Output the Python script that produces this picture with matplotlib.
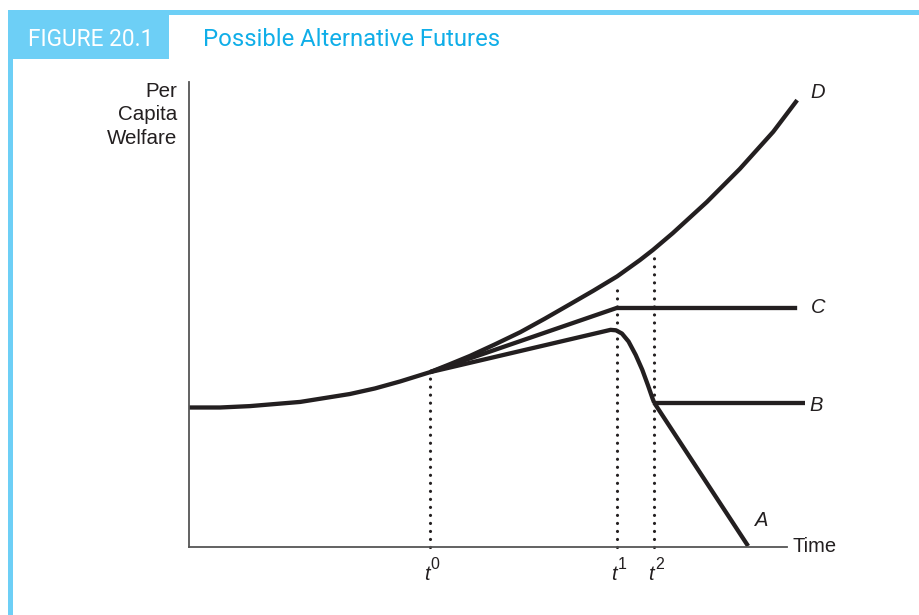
import matplotlib
matplotlib.use("Agg")
import matplotlib.pyplot as plt
from matplotlib.patches import Rectangle

# ---- data (time units, welfare units) ----
d_time = [0, 5.2, 10.2, 18.6, 26.9, 31.1, 35.3, 40.3, 43.6, 47.0, 51.2, 55.4, 59.5, 63.7,
          67.6, 71.6, 75.4, 77.6, 80.9, 86.6, 92.1, 97.7, 101.7]
d_welfare = [30.0, 30.0, 30.3, 31.2, 32.9, 34.1, 35.6, 37.6, 39.3, 41.1, 43.6, 46.2, 49.1, 52.2,
             55.1, 58.2, 61.7, 63.9, 67.5, 74.2, 81.3, 89.3, 96.1]

c_time = [40.3, 71.5, 101.7]
c_welfare = [37.6, 51.4, 51.4]

low_time = [40.3, 70.5, 71.4, 72.4, 73.5, 74.7, 75.8, 76.8, 77.5, 77.8]
low_welfare = [37.6, 46.7, 46.6, 45.9, 44.2, 41.3, 38.1, 34.6, 32.0, 31.0]

b_time = [77.8, 103.0]
b_welfare = [31.0, 31.0]

a_time = [77.8, 93.5]
a_welfare = [31.0, 0.2]

marker_times = [40.3, 71.6, 77.8]
marker_tops = [37.0, 56.8, 63.2]
marker_sups = ["0", "1", "2"]

curve_labels = ["D", "C", "B", "A"]
curve_label_pos = [(105.2, 97.8), (105.2, 51.6), (104.8, 30.5), (95.8, 5.6)]

# ---- style ----
W, H = 919, 615
plt.rcParams["font.family"] = ["Liberation Sans", "DejaVu Sans"]

fig = plt.figure(figsize=(W / 100, H / 100), dpi=100)
fig.patch.set_facecolor("white")

light_blue = "#6dcff6"
title_blue = "#10aee8"
ink = "#231f20"

# frame decorations
fig.patches.append(Rectangle((8 / W, 1 - 15 / H), 1, 5 / H, transform=fig.transFigure,
                             color=light_blue, lw=0))
fig.patches.append(Rectangle((8 / W, 0), 5 / W, (H - 10) / H, transform=fig.transFigure,
                             color=light_blue, lw=0))
fig.patches.append(Rectangle((8 / W, 1 - 59 / H), 161 / W, 49 / H, transform=fig.transFigure,
                             color=light_blue, lw=0))

narrow = ["Roboto", "DejaVu Sans"]
fig.text(91 / W, 1 - 40 / H, "FIGURE 20.1", color="white", fontsize=16.3,
         family=narrow, ha="center", va="center")
fig.text(203 / W, 1 - 40 / H, "Possible Alternative Futures", color=title_blue, fontsize=17.2,
         family=narrow, ha="left", va="center")

ax = fig.add_axes([189 / W, (H - 547) / H, (787 - 189) / W, (547 - 82) / H])
ax.set_xlim(0, 100)
ax.set_ylim(0, 100)
for s in ["top", "right"]:
    ax.spines[s].set_visible(False)
for s in ["left", "bottom"]:
    ax.spines[s].set_color("#555555")
    ax.spines[s].set_linewidth(1.3)
ax.set_xticks([])
ax.set_yticks([])
ax.patch.set_alpha(0)

lw = 3.1
kw = dict(color=ink, lw=lw, solid_capstyle="butt", solid_joinstyle="round", clip_on=False)
ax.plot(d_time, d_welfare, **kw)
ax.plot(c_time, c_welfare, **kw)
ax.plot(low_time, low_welfare, **kw)
ax.plot(b_time, b_welfare, **kw)
ax.plot(a_time, a_welfare, **kw)

for t, top, sup in zip(marker_times, marker_tops, marker_sups):
    ax.plot([t, t], [0, top], color=ink, lw=2.3, linestyle=(0, (0.01, 2.5)),
            dash_capstyle="round", clip_on=False)
    ax.annotate("t", xy=(t, 0), xytext=(-2.5, -24), textcoords="offset points",
                fontsize=14.5, style="italic", ha="center", va="baseline", color=ink,
                annotation_clip=False)
    ax.annotate(sup, xy=(t, 0), xytext=(0.5, -15.5), textcoords="offset points",
                fontsize=11.5, ha="left", va="baseline", color=ink,
                annotation_clip=False)

for lab, (x, y) in zip(curve_labels, curve_label_pos):
    ax.text(x, y, lab, fontsize=14.5, style="italic", ha="center", va="center", color=ink)

ax.text(101.0, 0, "Time", fontsize=14.5, ha="left", va="center", color=ink)

fig.text(177 / W, 1 - 82 / H, "Per\nCapita\nWelfare", fontsize=14.8, ha="right", va="top",
         multialignment="right", linespacing=1.3, color=ink)

fig.savefig("out.png", dpi=100, facecolor="white")
